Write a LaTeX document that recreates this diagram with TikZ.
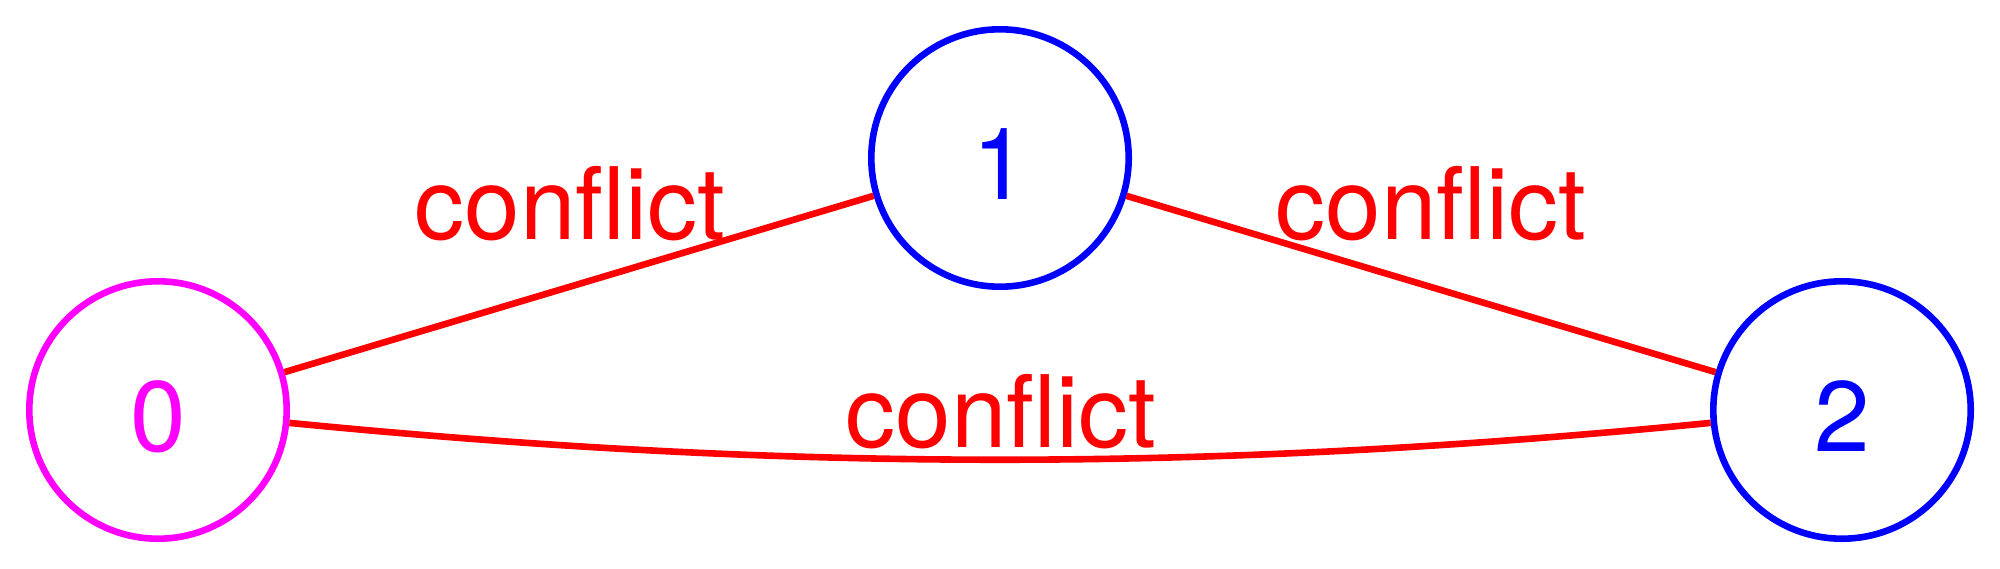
\documentclass[tikz,border=0pt]{standalone}
\usepackage{fontspec}
\setmainfont{TeX Gyre Heros}
\definecolor{vmagenta}{RGB}{255,0,255}
\definecolor{vblueclr}{RGB}{0,0,255}
\definecolor{vredclr}{RGB}{255,0,0}
\begin{document}
\begin{tikzpicture}[x=0.25pt,y=-0.25pt,
  vnode/.style={circle, draw, line width=1.65pt, minimum size=64.35pt, inner sep=0pt,
    font=\fontsize{25}{30}\selectfont, text height=20.6pt, text depth=0pt},
  vmag/.style={vnode, draw=vmagenta, text=vmagenta},
  vblue/.style={vnode, draw=vblueclr, text=vblueclr},
  conf/.style={draw=vredclr, line width=1.65pt},
  clabel/.style={anchor=base, inner sep=0pt, text=vredclr, font=\fontsize{25}{30}\selectfont}]
\useasboundingbox (0,0) rectangle (2000,568);
\node[vmag]  (n0) at (158,410) {0};
\node[vblue] (n1) at (1000,158) {1};
\node[vblue] (n2) at (1842,410) {2};
\coordinate (c1) at (790,472);
\coordinate (c2) at (1210,472);
\draw[conf] (n0) -- (n1);
\draw[conf] (n1) -- (n2);
\draw[conf] (n0) .. controls (c1) and (c2) .. (n2);
\node[clabel] (l01) at (570,239) {conflict};
\node[clabel] (l12) at (1431,239) {conflict};
\node[clabel] (l02) at (1001,447) {conflict};
\end{tikzpicture}
\end{document}
